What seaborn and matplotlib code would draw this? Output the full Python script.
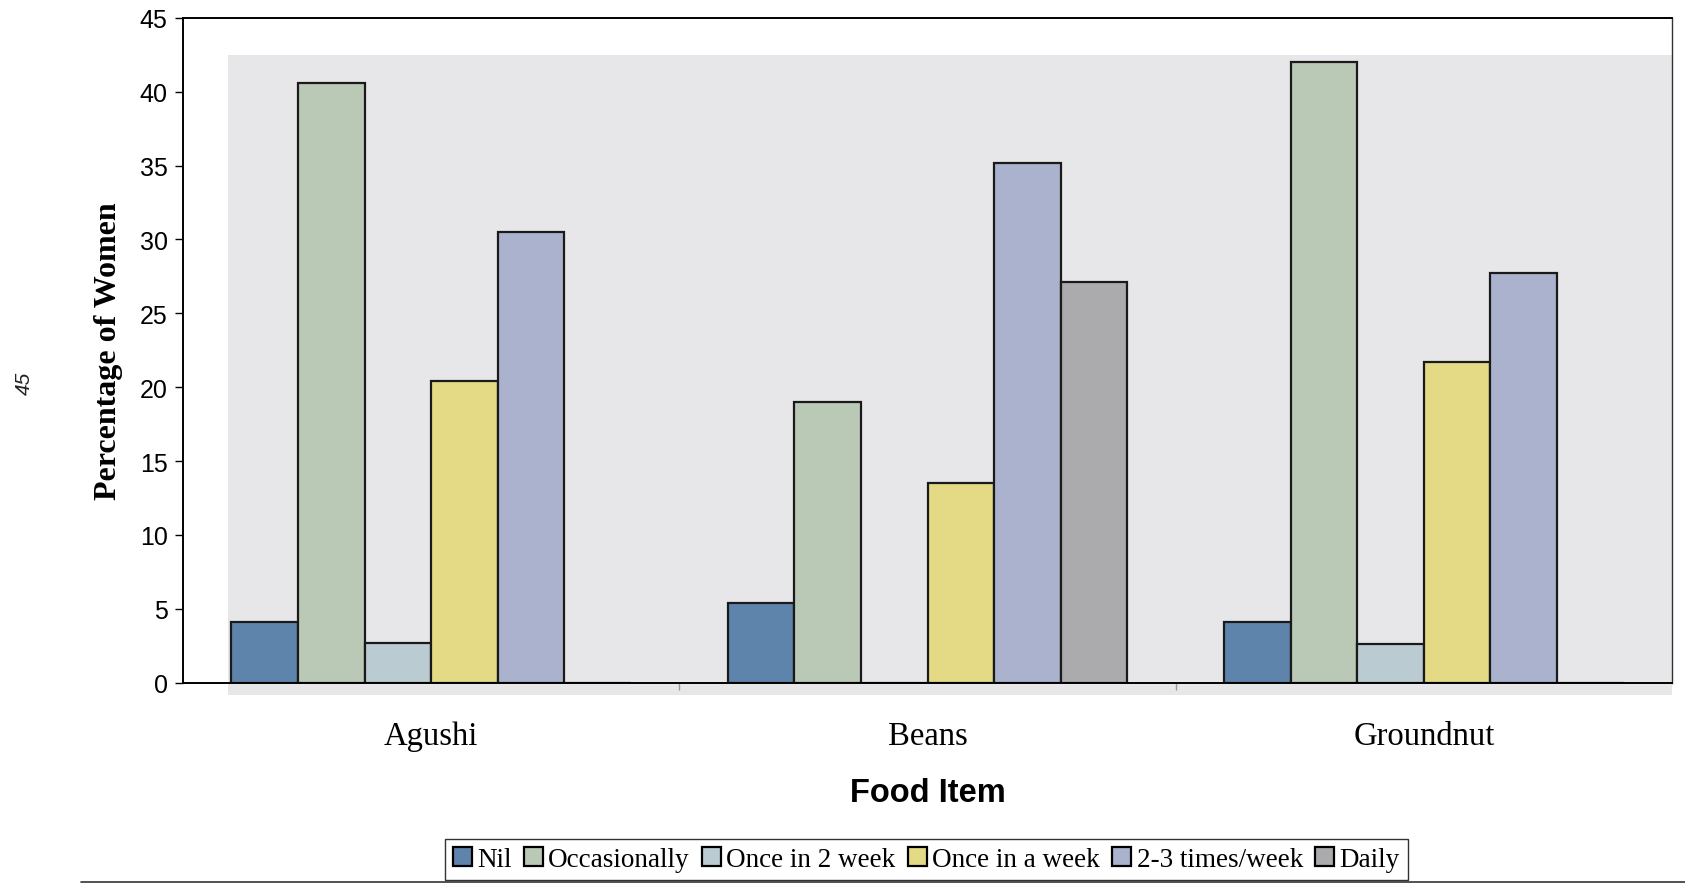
import matplotlib
matplotlib.use("Agg")
import matplotlib.pyplot as plt
from matplotlib.patches import Rectangle
from matplotlib.lines import Line2D
import seaborn as sns
import pandas as pd

# Survey data: share of women eating each food item, by frequency
food_items = ["Agushi", "Beans", "Groundnut"]
frequencies = ["Nil", "Occasionally", "Once in 2 week", "Once in a week",
               "2-3 times/week", "Daily"]
nil = [4.1, 5.4, 4.1]
occasionally = [40.6, 19.0, 42.0]
once_in_2_week = [2.7, 0.0, 2.6]
once_in_a_week = [20.4, 13.5, 21.7]
two_three_times = [30.5, 35.2, 27.7]
daily = [0.0, 27.1, 0.0]

colors = ["#5F84AC", "#BAC8B6", "#BACCD2", "#E4DA86", "#AAB2CE", "#ABAAAD"]

series = [nil, occasionally, once_in_2_week, once_in_a_week, two_three_times, daily]
rows = []
for freq, vals in zip(frequencies, series):
    for item, v in zip(food_items, vals):
        rows.append({"Food Item": item, "Frequency": freq, "Percentage": v})
df = pd.DataFrame(rows)

sns.set_theme(style="white")
fig = plt.figure(figsize=(16.85, 8.87), dpi=100)
ax = fig.add_axes([0.1086, 0.2294, 0.8837, 0.7492])
ax.set_facecolor("none")

# light grey plot-area panel behind the bars
fig.patches.append(Rectangle((0.1353, 0.2153), 0.857, 0.7216,
                             transform=fig.transFigure, facecolor="#E7E7E9",
                             edgecolor="none", zorder=-1))

sns.barplot(data=df, x="Food Item", y="Percentage", hue="Frequency",
            hue_order=frequencies, order=food_items, palette=colors,
            width=0.805, edgecolor="#1a1a1a", linewidth=1.6, saturation=1,
            ax=ax)

ax.set_xlim(-0.5, 2.5)
ax.set_ylim(0, 45)
ax.set_yticks(range(0, 46, 5))
ax.tick_params(axis="y", which="major", direction="out", length=6, width=1,
               color="black", left=True, pad=5, labelsize=18,
               labelcolor="black")
for lab in ax.get_yticklabels():
    lab.set_family("Liberation Sans")

ax.tick_params(axis="x", which="major", length=0, pad=27, labelcolor="black")
ax.set_xticks([0.5, 1.5], minor=True)
ax.tick_params(axis="x", which="minor", direction="out", length=5,
               color="#999999", bottom=True)
for lab in ax.get_xticklabels():
    lab.set_family("Liberation Serif")
    lab.set_fontsize(23.5)

ax.set_ylabel("Percentage of Women", family="Liberation Serif",
              fontweight="bold", fontsize=23, labelpad=12, color="black")
ax.set_xlabel("Food Item", family="Liberation Sans", fontweight="bold",
              fontsize=23.5, labelpad=19, color="black")

for side in ["left", "top", "bottom"]:
    ax.spines[side].set_color("black")
    ax.spines[side].set_linewidth(1.4)
ax.spines["right"].set_color("#333333")
ax.spines["right"].set_linewidth(1.0)

handles, labels = ax.get_legend_handles_labels()
for h in handles:
    h.set_edgecolor("black")
    h.set_linewidth(1.6)
leg = ax.legend(handles, labels, ncol=6, loc="center",
                bbox_to_anchor=(0.5497, 0.030), bbox_transform=fig.transFigure,
                frameon=True, fancybox=False, edgecolor="black",
                prop={"family": "Liberation Serif", "size": 19.5},
                handlelength=0.7, handleheight=0.7, handletextpad=0.2,
                columnspacing=0.45, borderpad=0.3, borderaxespad=0)
leg.get_frame().set_linewidth(1.0)
for t in leg.get_texts():
    t.set_color("black")

# rule along the bottom of the figure
fig.add_artist(Line2D([0.048, 1.0], [0.004, 0.004], transform=fig.transFigure,
                      color="#333333", linewidth=1.2))

# page number printed sideways in the margin
fig.text(0.0145, 0.568, "45", rotation=90, color="#222222", style="italic",
         family="Liberation Sans", fontsize=15, ha="center", va="center")

fig.savefig("out.png", dpi=100)
